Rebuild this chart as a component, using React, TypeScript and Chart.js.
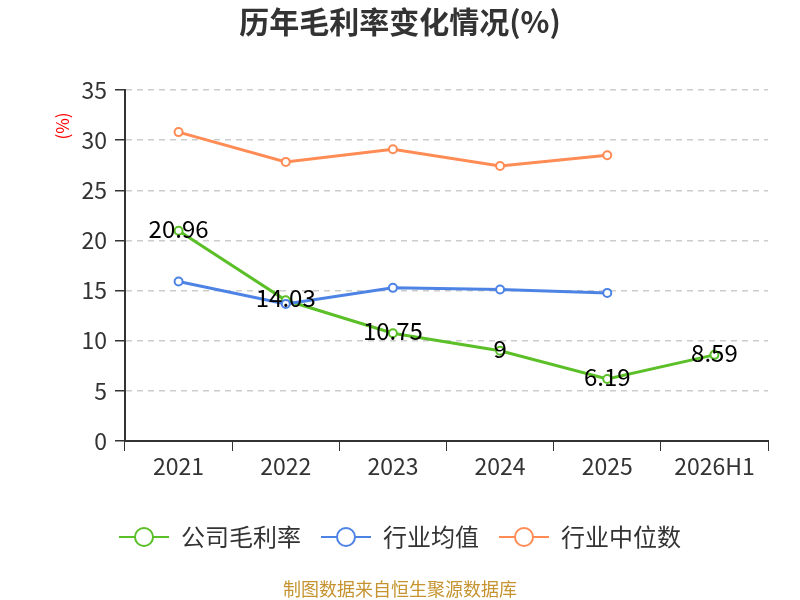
import React, { useEffect, useRef } from 'react';
import { Chart, registerables } from 'chart.js';

Chart.register(...registerables);

const years = ['2021', '2022', '2023', '2024', '2025', '2026H1'];
const companyMargin = [20.96, 14.03, 10.75, 9, 6.19, 8.59];
const industryAvg = [15.9, 13.67, 15.27, 15.1, 14.77, null];
const industryMedian = [30.8, 27.83, 29.1, 27.43, 28.5, null];
const seriesNames = ['公司毛利率', '行业均值', '行业中位数'];
const seriesColors = ['#5bbf27', '#4d83e4', '#ff8c55'];

const FONT = '"Microsoft YaHei", "Noto Sans CJK SC", sans-serif';

// little "—o—" marker for the legend
const legendMarker = (color: string) => {
  const c = document.createElement('canvas');
  c.width = 50;
  c.height = 22;
  const ctx = c.getContext('2d')!;
  ctx.strokeStyle = color;
  ctx.lineWidth = 2;
  ctx.beginPath();
  ctx.moveTo(0, 11);
  ctx.lineTo(50, 11);
  ctx.stroke();
  ctx.beginPath();
  ctx.arc(25, 11, 9, 0, Math.PI * 2);
  ctx.fillStyle = '#fff';
  ctx.fill();
  ctx.stroke();
  return c;
};

const extras = {
  id: 'extras',
  afterDatasetsDraw(chart: any) {
    const ctx = chart.ctx;
    const meta = chart.getDatasetMeta(0);
    ctx.save();
    ctx.font = '24px ' + FONT;
    ctx.fillStyle = '#000';
    ctx.textAlign = 'center';
    ctx.textBaseline = 'middle';
    meta.data.forEach((pt: any, i: number) => {
      ctx.fillText(String(companyMargin[i]), pt.x, pt.y - 2);
    });
    ctx.restore();
  },
  afterDraw(chart: any) {
    const ctx = chart.ctx;
    ctx.save();
    ctx.translate(63, 126);
    ctx.rotate(-Math.PI / 2);
    ctx.font = '17px ' + FONT;
    ctx.fillStyle = '#ff0000';
    ctx.textAlign = 'center';
    ctx.textBaseline = 'middle';
    ctx.fillText('(%)', 0, 0);
    ctx.restore();

    ctx.save();
    ctx.font = '18px ' + FONT;
    ctx.fillStyle = '#c59430';
    ctx.textAlign = 'center';
    ctx.textBaseline = 'middle';
    ctx.fillText('制图数据来自恒生聚源数据库', 400, 589);
    ctx.restore();
  },
};

const App: React.FC = () => {
  const chartRef = useRef<HTMLCanvasElement>(null);

  useEffect(() => {
    if (!chartRef.current) return;
    const values = [companyMargin, industryAvg, industryMedian];
    const markers = seriesColors.map(legendMarker);
    const chart = new Chart(chartRef.current, {
      type: 'line',
      data: {
        labels: years,
        datasets: seriesNames.map((name, i) => ({
          label: name,
          data: values[i],
          borderColor: seriesColors[i],
          backgroundColor: '#fff',
          borderWidth: 3,
          pointRadius: 4,
          pointBorderWidth: 2,
          pointBackgroundColor: '#fff',
          pointBorderColor: seriesColors[i],
          tension: 0,
          order: 3 - i,
        })),
      },
      options: {
        animation: false,
        responsive: true,
        maintainAspectRatio: false,
        layout: { padding: { top: 0, left: 32, right: 32, bottom: 41 } },
        plugins: {
          title: {
            display: true,
            text: '历年毛利率变化情况(%)',
            color: '#333',
            font: { size: 30, weight: 'bold', family: FONT },
            padding: { top: 4, bottom: 50 },
          },
          legend: {
            position: 'bottom',
            labels: {
              usePointStyle: true,
              pointStyleWidth: 50,
              boxHeight: 22,
              padding: 20,
              color: '#333',
              font: { size: 24, family: FONT },
              generateLabels: (c: any) =>
                c.data.datasets.map((ds: any, i: number) => ({
                  text: ds.label,
                  pointStyle: markers[i],
                  fillStyle: '#fff',
                  strokeStyle: seriesColors[i],
                  fontColor: '#333',
                  lineWidth: 0,
                  hidden: false,
                  datasetIndex: i,
                })),
            },
          },
          tooltip: { enabled: false },
        },
        scales: {
          x: {
            offset: true,
            afterFit: (s: any) => {
              s.height = 64;
            },
            grid: {
              offset: true,
              drawOnChartArea: false,
              tickLength: 10,
              tickColor: '#333',
            },
            border: { color: '#333', width: 2 },
            ticks: { color: '#333', padding: 1, font: { size: 23, family: FONT } },
          },
          y: {
            min: 0,
            max: 35,
            afterFit: (s: any) => {
              s.width = 93;
            },
            grid: {
              color: '#cccccc',
              lineWidth: 1.5,
              tickLength: 10,
              tickColor: '#333',
              tickBorderDash: [],
            },
            border: { color: '#333', width: 2, dash: [6, 5] },
            ticks: { stepSize: 5, color: '#333', padding: 8, font: { size: 23, family: FONT } },
          },
        },
      },
      plugins: [extras],
    });
    return () => {
      chart.destroy();
    };
  }, []);

  return (
    <div style={{ position: 'absolute', left: 0, top: 0, width: 800, height: 600, background: '#fff' }}>
      <canvas ref={chartRef} />
    </div>
  );
};

export default App;
